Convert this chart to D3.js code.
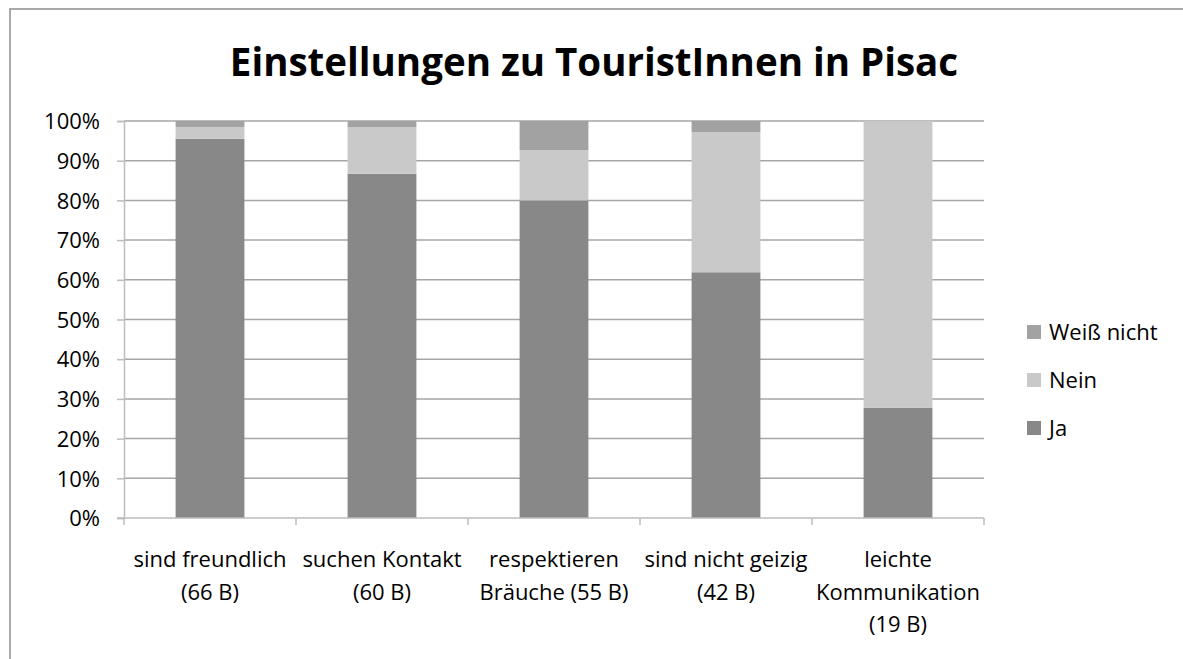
<!DOCTYPE html>
<html>
<head>
<meta charset="utf-8">
<script src="https://cdn.jsdelivr.net/npm/d3@7"></script>
<style>
  html, body { margin: 0; padding: 0; background: #fff; overflow: hidden; }
  svg { display: block; font-family: "Open Sans", "Noto Sans", sans-serif; }
</style>
</head>
<body>
<div id="chart"></div>
<script>
// Chart data (percent of answers)
const categories = [
  ["sind freundlich", "(66 B)"],
  ["suchen Kontakt", "(60 B)"],
  ["respektieren", "Bräuche (55 B)"],
  ["sind nicht geizig", "(42 B)"],
  ["leichte", "Kommunikation", "(19 B)"]
];
const ja = [95.5, 86.7, 80.0, 61.9, 27.8];
const nein = [3.0, 11.7, 12.7, 35.3, 72.2];
const weissNicht = [1.5, 1.6, 7.3, 2.8, 0];
const seriesNames = ["Ja", "Nein", "Weiß nicht"];
const seriesColors = ["#888888", "#c9c9c9", "#a2a2a2"];
const yTicks = [0, 10, 20, 30, 40, 50, 60, 70, 80, 90, 100];

const width = 1183, height = 659;
const margin = { left: 124, right: 199, top: 121, bottom: 141 };
const labelSize = "22px";

const svg = d3.select("#chart")
  .append("svg")
  .attr("width", width)
  .attr("height", height);

// outer frame (only left and top edges are visible)
svg.append("path")
  .attr("d", `M10,${height} L10,9 L${width},9`)
  .attr("fill", "none")
  .attr("stroke", "#a9a9a9")
  .attr("stroke-width", 2);

svg.append("text")
  .attr("x", 594)
  .attr("y", 76)
  .attr("text-anchor", "middle")
  .style("font-size", "38.5px")
  .style("font-weight", "bold")
  .text("Einstellungen zu TouristInnen in Pisac");

const x = d3.scaleBand()
  .domain(d3.range(categories.length))
  .range([margin.left, width - margin.right])
  .paddingInner(0.6)
  .paddingOuter(0.3);

const y = d3.scaleLinear()
  .domain([0, 100])
  .range([height - margin.bottom, margin.top]);

// gridlines
svg.append("g")
  .selectAll("line")
  .data(yTicks.filter(d => d > 0))
  .join("line")
  .attr("x1", margin.left)
  .attr("x2", width - margin.right)
  .attr("y1", d => y(d))
  .attr("y2", d => y(d))
  .attr("stroke", "#a6a6a6")
  .attr("stroke-width", 1.5);

// stacked bars
const rows = categories.map((c, i) => ({ i, Ja: ja[i], Nein: nein[i], "Weiß nicht": weissNicht[i] }));
const stack = d3.stack().keys(seriesNames)(rows);

svg.append("g")
  .selectAll("g")
  .data(stack)
  .join("g")
  .attr("fill", (d, i) => seriesColors[i])
  .selectAll("rect")
  .data(d => d)
  .join("rect")
  .attr("x", d => x(d.data.i))
  .attr("width", x.bandwidth())
  .attr("y", d => y(d[1]))
  .attr("height", d => y(d[0]) - y(d[1]));

// y axis
const yAxis = svg.append("g")
  .attr("transform", `translate(${margin.left},0)`)
  .call(d3.axisLeft(y).tickValues(yTicks).tickFormat(d => d + "%").tickSize(7).tickPadding(17));
yAxis.select(".domain").attr("stroke", "#bdbdbd").attr("stroke-width", 1.5);
yAxis.selectAll(".tick line").attr("stroke", "#bdbdbd").attr("stroke-width", 1.5);
yAxis.selectAll("text")
  .style("font-size", labelSize)
  .style("font-family", "'Open Sans', sans-serif")
  .attr("fill", "#000")
  .attr("dy", "0.35em");

// x axis
const step = (width - margin.left - margin.right) / categories.length;
const xAxisG = svg.append("g");
xAxisG.append("line")
  .attr("x1", margin.left - 7)
  .attr("x2", width - margin.right)
  .attr("y1", y(0)).attr("y2", y(0))
  .attr("stroke", "#bdbdbd")
  .attr("stroke-width", 1.5);
xAxisG.selectAll(".xtick")
  .data(d3.range(categories.length + 1))
  .join("line")
  .attr("x1", d => margin.left + d * step)
  .attr("x2", d => margin.left + d * step)
  .attr("y1", y(0))
  .attr("y2", y(0) + 7)
  .attr("stroke", "#bdbdbd")
  .attr("stroke-width", 1.5);

xAxisG.selectAll("text")
  .data(categories)
  .join("text")
  .attr("x", (d, i) => x(i) + x.bandwidth() / 2)
  .attr("y", 567)
  .attr("text-anchor", "middle")
  .style("font-size", labelSize)
  .selectAll("tspan")
  .data(d => d)
  .join("tspan")
  .attr("x", function () { return d3.select(this.parentNode).attr("x"); })
  .attr("dy", (d, i) => i === 0 ? 0 : 32.5)
  .text(d => d);

// legend
const legendItems = seriesNames.map((n, i) => ({ name: n, color: seriesColors[i] })).reverse();
const legend = svg.append("g")
  .selectAll("g")
  .data(legendItems)
  .join("g")
  .attr("transform", (d, i) => `translate(1027,${332 + i * 48})`);
legend.append("rect")
  .attr("x", 0).attr("y", -7)
  .attr("width", 14).attr("height", 14)
  .attr("fill", d => d.color);
legend.append("text")
  .attr("x", 22)
  .attr("dy", "0.35em")
  .style("font-size", labelSize)
  .text(d => d.name);
</script>
</body>
</html>
